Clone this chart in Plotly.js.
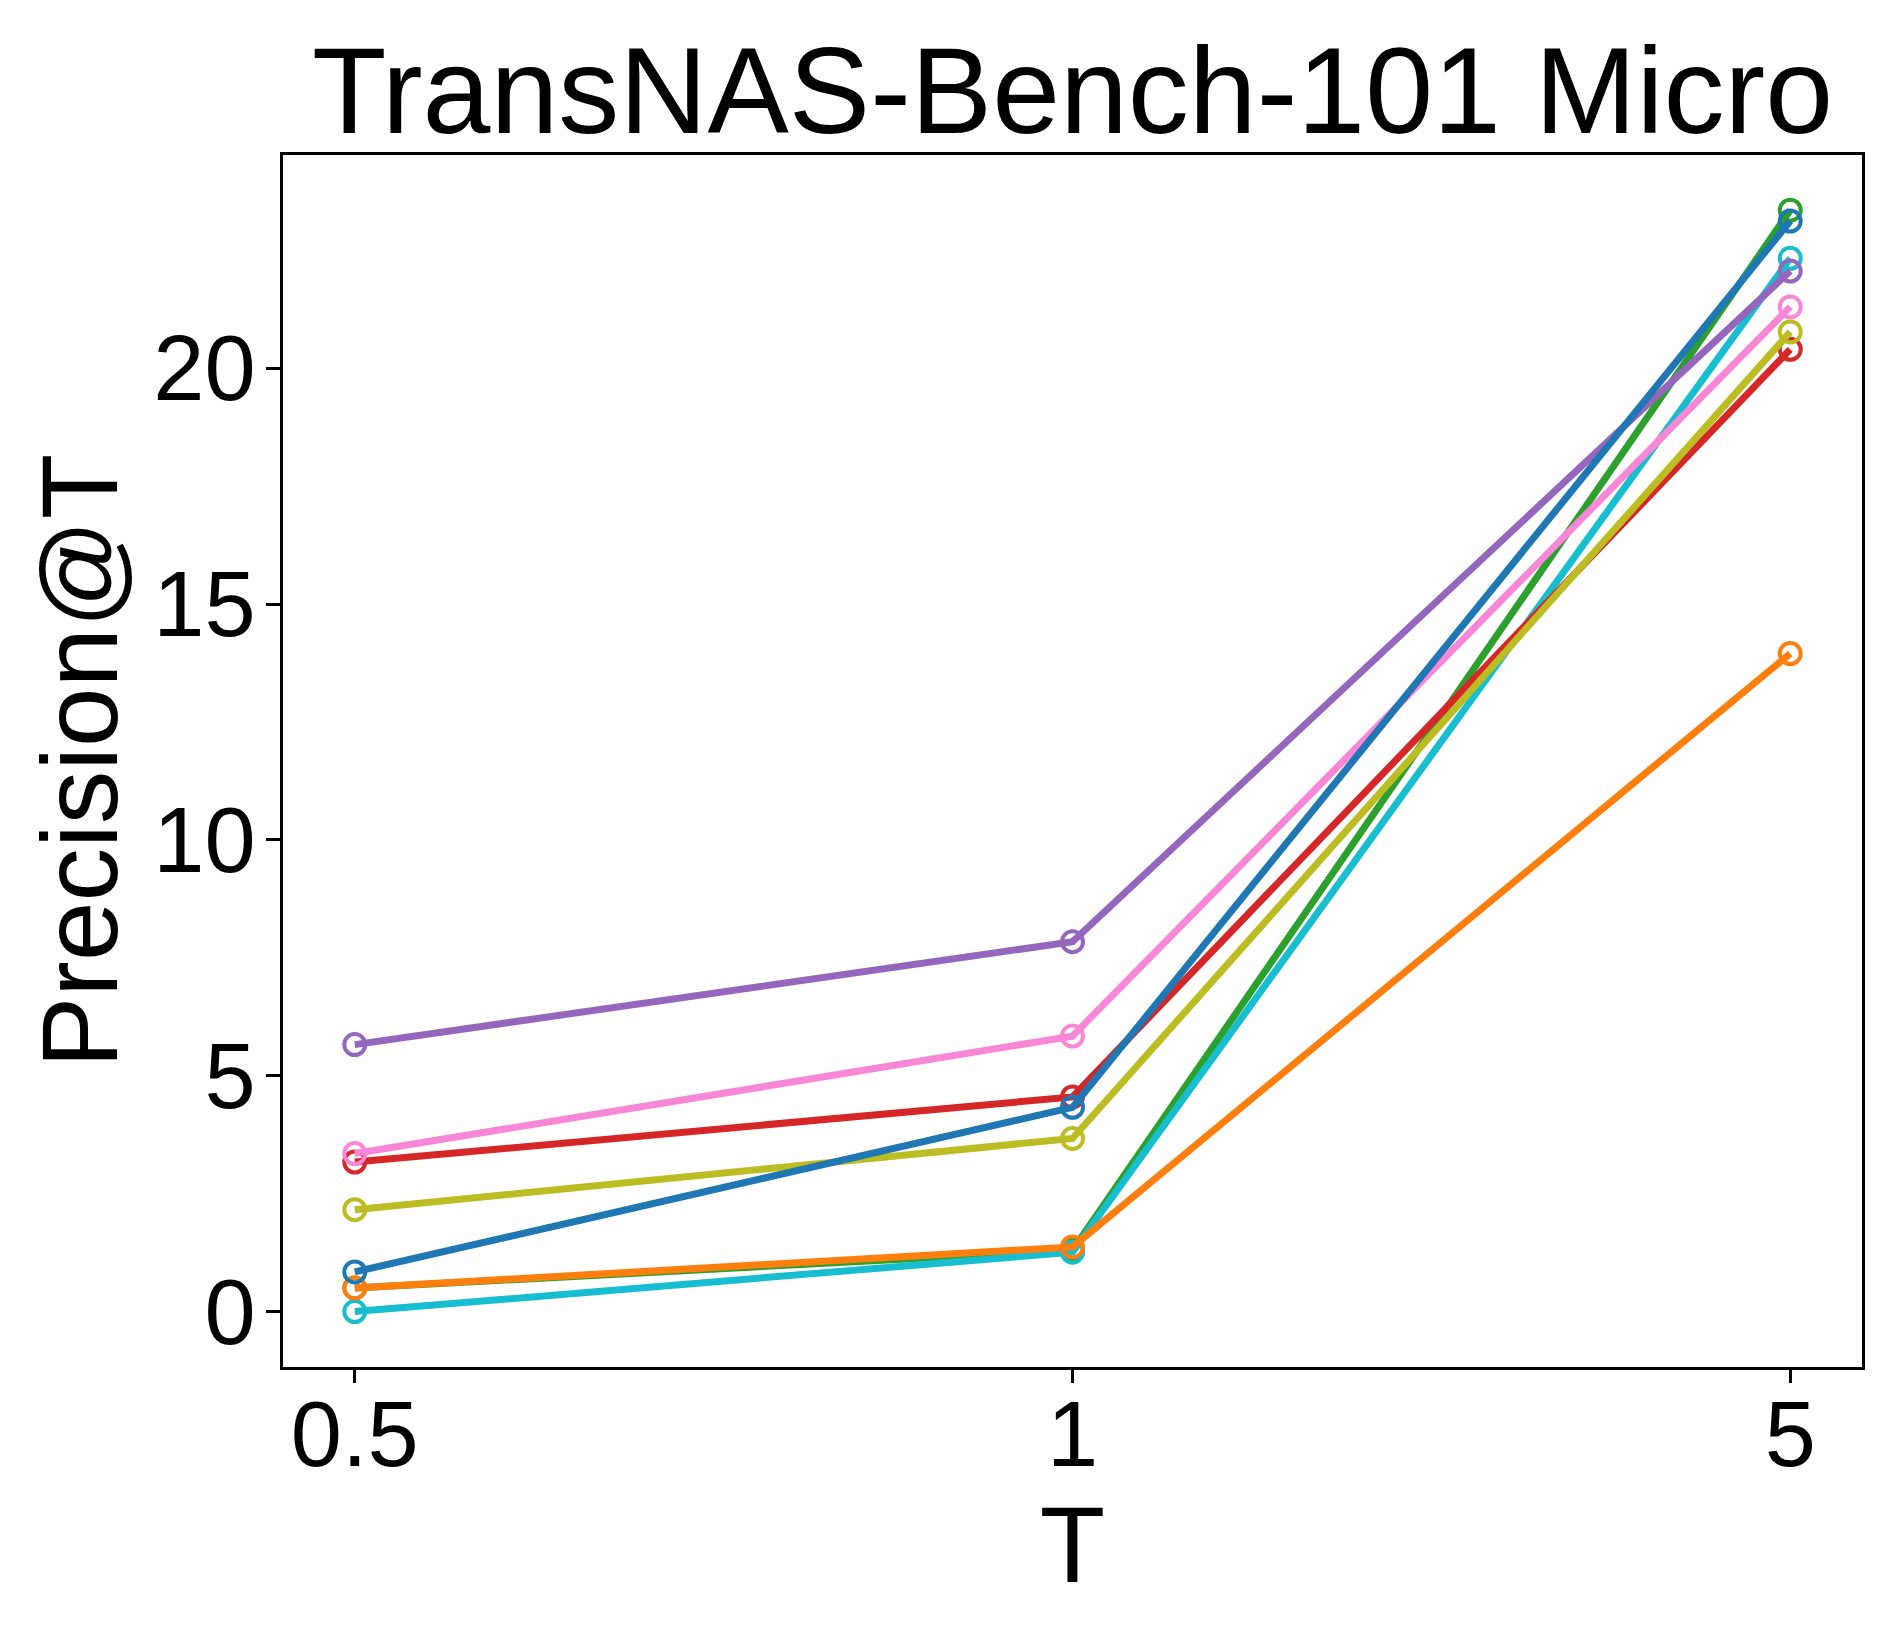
<!DOCTYPE html>
<html>
<head>
<meta charset="utf-8">
<script src="https://cdn.plot.ly/plotly-3.0.1.min.js"></script>
<style>
  html, body { margin: 0; padding: 0; background: #ffffff; }
  #chart { width: 1903px; height: 1631px; }
</style>
</head>
<body>
<div id="chart"></div>
<script>
// Tick labels / categories of the x axis (T)
const T_labels = ['0.5', '1', '5'];

// Precision@T series
const green  = [0.50, 1.30, 23.35];
const cyan   = [0.00, 1.26, 22.33];
const purple = [5.66, 7.84, 22.06];
const red    = [3.17, 4.55, 20.40];
const pink   = [3.35, 5.84, 21.30];
const olive  = [2.16, 3.67, 20.77];
const orange = [0.50, 1.37, 13.95];
const blue   = [0.84, 4.33, 23.12];

const seriesNames  = ['green', 'cyan', 'purple', 'red', 'pink', 'olive', 'orange', 'blue'];
const seriesValues = [green, cyan, purple, red, pink, olive, orange, blue];
const seriesColors = ['#2ca02c', '#17becf', '#9467bd', '#d62728', '#f887d8', '#bcbd22', '#ff7f0e', '#1f77b4'];

const yTicks = [0, 5, 10, 15, 20];

const traces = seriesValues.map((vals, i) => ({
  type: 'scatter',
  mode: 'lines+markers',
  name: seriesNames[i],
  x: T_labels,
  y: vals,
  line: { color: seriesColors[i], width: 7 },
  marker: { symbol: 'circle-open', size: 21, color: seriesColors[i], line: { width: 4, color: seriesColors[i] } },
  showlegend: false
}));

const fontFamily = '"Liberation Sans", Arial, Helvetica, sans-serif';

const layout = {
  width: 1903,
  height: 1631,
  margin: { l: 283, r: 41, t: 155, b: 264, pad: 0 },
  paper_bgcolor: '#ffffff',
  plot_bgcolor: '#ffffff',
  font: { family: fontFamily, color: '#000000' },
  title: {
    text: 'TransNAS-Bench-101 Micro',
    font: { family: fontFamily, size: 122, color: '#000000' },
    x: 0.5, xref: 'paper', xanchor: 'center',
    y: 1, yref: 'paper', yanchor: 'bottom',
    pad: { b: 22 }
  },
  xaxis: {
    type: 'category',
    range: [-0.1, 2.1],
    showline: true, linecolor: '#000000', linewidth: 3, mirror: true,
    showgrid: false, zeroline: false,
    ticks: 'outside', ticklen: 13, tickwidth: 3, tickcolor: '#000000',
    tickfont: { family: fontFamily, size: 92, color: '#000000' },
    ticklabelstandoff: -27,
    title: { text: 'T', font: { family: fontFamily, size: 107, color: '#000000' }, standoff: 0 }
  },
  yaxis: {
    range: [-1.175, 24.52],
    tickvals: yTicks,
    ticktext: yTicks.map(String),
    showline: true, linecolor: '#000000', linewidth: 3, mirror: true,
    showgrid: false, zeroline: false,
    ticks: 'outside', ticklen: 14, tickwidth: 3, tickcolor: '#000000',
    tickfont: { family: fontFamily, size: 92, color: '#000000' },
    ticklabelstandoff: -8,
    title: { text: 'Precision@T', font: { family: fontFamily, size: 107, color: '#000000' }, standoff: 0 }
  }
};

Plotly.newPlot('chart', traces, layout, { staticPlot: true, displayModeBar: false });
</script>
</body>
</html>
